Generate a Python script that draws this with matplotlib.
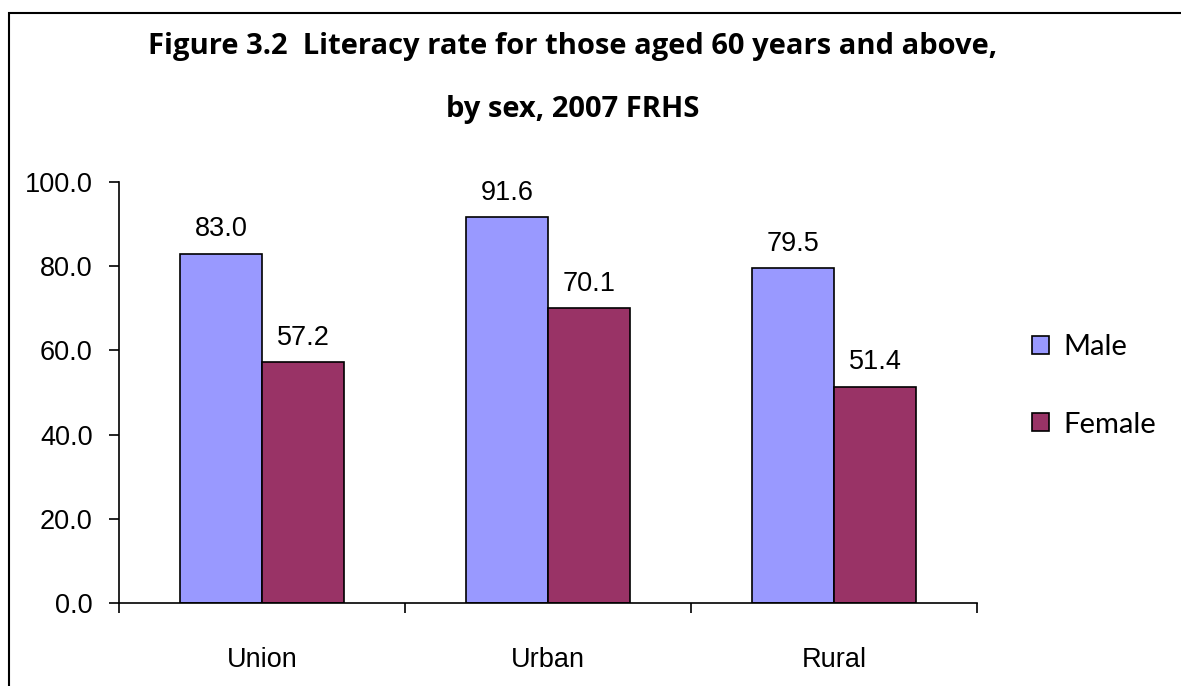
import numpy as np
import matplotlib.pyplot as plt
from matplotlib.patches import Rectangle

# data
categories = ["Union", "Urban", "Rural"]
male = [83.0, 91.6, 79.5]
female = [57.2, 70.1, 51.4]
series_names = ["Male", "Female"]
yticks = [0, 20, 40, 60, 80, 100]

maleColor = "#9999FF"
femaleColor = "#993366"

fig = plt.figure(figsize=(11.81, 6.86), dpi=100)
ax = fig.add_axes([119 / 1181, 1 - 603 / 686, (977 - 119) / 1181, (603 - 182) / 686])

x = np.arange(len(categories))
w = 0.287
ax.bar(x - w / 2, male, w, color=maleColor, edgecolor="black", linewidth=1.2, label=series_names[0])
ax.bar(x + w / 2, female, w, color=femaleColor, edgecolor="black", linewidth=1.2, label=series_names[1])

for xi, v in zip(x - w / 2, male):
    ax.annotate(f"{v:.1f}", (xi, v), xytext=(0, 8), textcoords="offset points",
                ha="center", va="bottom", fontsize=19.5, family="Liberation Sans")
for xi, v in zip(x + w / 2, female):
    ax.annotate(f"{v:.1f}", (xi, v), xytext=(0, 8), textcoords="offset points",
                ha="center", va="bottom", fontsize=19.5, family="Liberation Sans")

ax.set_xlim(-0.5, 2.5)
ax.set_ylim(0, 100)
ax.set_yticks(yticks)
ax.set_yticklabels([f"{t:.1f}" for t in yticks], fontsize=19.5, family="Liberation Sans")
ax.set_xticks(x)
ax.set_xticklabels(categories, fontsize=19.5, family="Liberation Sans")
ax.tick_params(axis="x", length=0, pad=32)
ax.tick_params(axis="y", length=7, width=1.2, direction="out", pad=12)
ax.set_xticks([-0.5, 0.5, 1.5, 2.5], minor=True)
ax.tick_params(axis="x", which="minor", length=7, width=1.2, direction="out")
for s in ["top", "right"]:
    ax.spines[s].set_visible(False)
for s in ["left", "bottom"]:
    ax.spines[s].set_linewidth(1.2)

# outer frame (chart area, cropped on the right and bottom)
fig.patches.append(Rectangle((9 / 1181, -0.1), 1.2, 1 - 13 / 686 + 0.1, transform=fig.transFigure,
                             fill=False, edgecolor="black", linewidth=1.5))

fig.text(573 / 1181, 1 - 78 / 686, "Figure 3.2  Literacy rate for those aged 60 years and above,\nby sex, 2007 FRHS",
         ha="center", va="center", fontsize=21, fontweight="bold", family="Open Sans",
         linespacing=2.55)

leg = ax.legend(loc="center left", bbox_to_anchor=(1006 / 1181, 1 - 386 / 686),
                bbox_transform=fig.transFigure, frameon=False,
                handlelength=0.58, handleheight=0.58, handletextpad=0.5, labelspacing=1.75,
                prop={"family": "Lato", "size": 21})

fig.savefig("out.png", dpi=100)
